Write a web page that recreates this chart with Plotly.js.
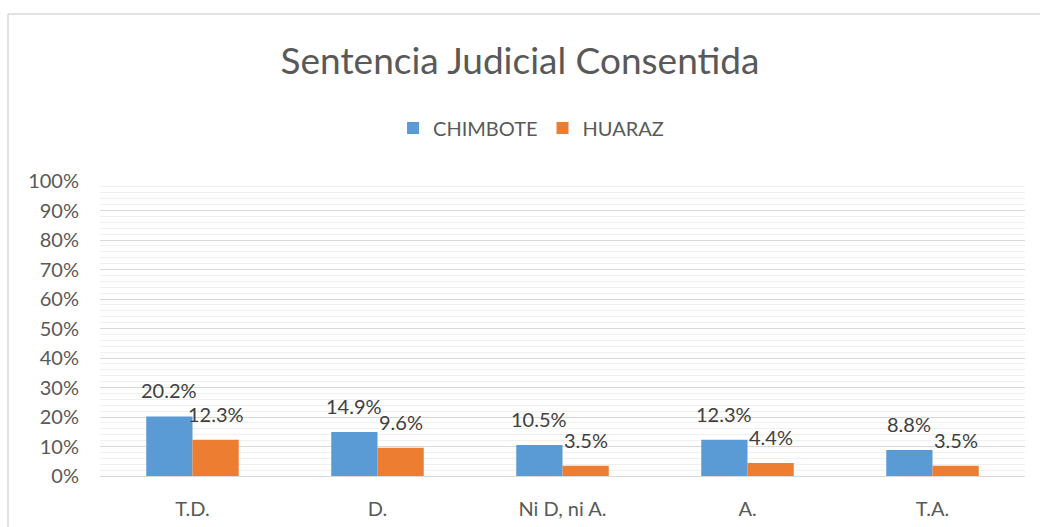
<!DOCTYPE html>
<html>
<head>
<meta charset="utf-8">
<script src="https://cdn.plot.ly/plotly-3.0.1.min.js"></script>
<style>html,body{margin:0;padding:0;background:#fff;}#chart{width:1040px;height:527px;}</style>
</head>
<body>
<div id="chart"></div>
<script>
const categories = ["T.D.", "D.", "Ni D, ni A.", "A.", "T.A."];
const chimbote = [20.2, 14.9, 10.5, 12.3, 8.8];
const huaraz = [12.3, 9.6, 3.5, 4.4, 3.5];
const yTickVals = [0, 10, 20, 30, 40, 50, 60, 70, 80, 90, 100];
const yTickText = ["0%", "10%", "20%", "30%", "40%", "50%", "60%", "70%", "80%", "90%", "100%"];

const FONT = "Lato, 'Open Sans', sans-serif";
const labelFont = {family: FONT, size: 20, color: "#404040"};
const BARGAP = 0.5;
const halfOffset = (1 - BARGAP) / 4;

const traces = [
  {type: "bar", name: "CHIMBOTE", x: categories, y: chimbote,
   marker: {color: "#5B9BD5"}, hoverinfo: "none"},
  {type: "bar", name: "HUARAZ", x: categories, y: huaraz,
   marker: {color: "#ED7D31"}, hoverinfo: "none"}
];

const annotations = [];
[[chimbote, -halfOffset], [huaraz, halfOffset]].forEach(([vals, off]) => {
  vals.forEach((v, i) => {
    annotations.push({x: i + off, y: v, xref: "x", yref: "y", text: v.toFixed(1) + "%",
      showarrow: false, xanchor: "center", yanchor: "bottom", yshift: 12, font: labelFont});
  });
});

const layout = {
  width: 1040, height: 527,
  paper_bgcolor: "#fff", plot_bgcolor: "#fff",
  margin: {l: 100, r: 15, t: 181, b: 51, pad: 0},
  font: {family: FONT, color: "#595959"},
  title: {text: "Sentencia Judicial Consentida", font: {family: FONT, size: 37, color: "#595959"},
          x: 0.5, xanchor: "center", y: 0.885, yanchor: "middle"},
  showlegend: true,
  legend: {orientation: "h", x: 0.466, xanchor: "center", y: 1.18, yanchor: "middle",
           font: {family: FONT, size: 20, color: "#595959"}, traceorder: "normal",
           itemwidth: 20},
  barmode: "group", bargap: BARGAP, bargroupgap: 0,
  xaxis: {type: "category", showgrid: false, zeroline: false, showline: true,
          linecolor: "#d9d9d9", linewidth: 1,
          ticks: "outside", ticklen: 15, tickcolor: "rgba(0,0,0,0)",
          tickfont: {family: FONT, size: 20, color: "#595959"}},
  yaxis: {range: [0, 100], tickvals: yTickVals, ticktext: yTickText,
          showgrid: true, gridcolor: "#d9d9d9", gridwidth: 1, zeroline: false,
          ticks: "outside", ticklen: 16, tickcolor: "rgba(0,0,0,0)",
          tickfont: {family: FONT, size: 20, color: "#595959"},
          minor: {dtick: 2, showgrid: true, gridcolor: "#f0f0f0", gridwidth: 1}},
  annotations: annotations,
  shapes: [
    {type: "line", xref: "paper", yref: "paper", x0: (8-100)/925, x1: 1.1, y0: (476-14)/295, y1: (476-14)/295,
     line: {color: "#d9d9d9", width: 1.5}},
    {type: "line", xref: "paper", yref: "paper", x0: (8-100)/925, x1: (8-100)/925, y0: (476-14)/295, y1: -0.3,
     line: {color: "#d9d9d9", width: 1.5}}
  ]
};

Plotly.newPlot("chart", traces, layout, {displayModeBar: false, staticPlot: true});
</script>
</body>
</html>
